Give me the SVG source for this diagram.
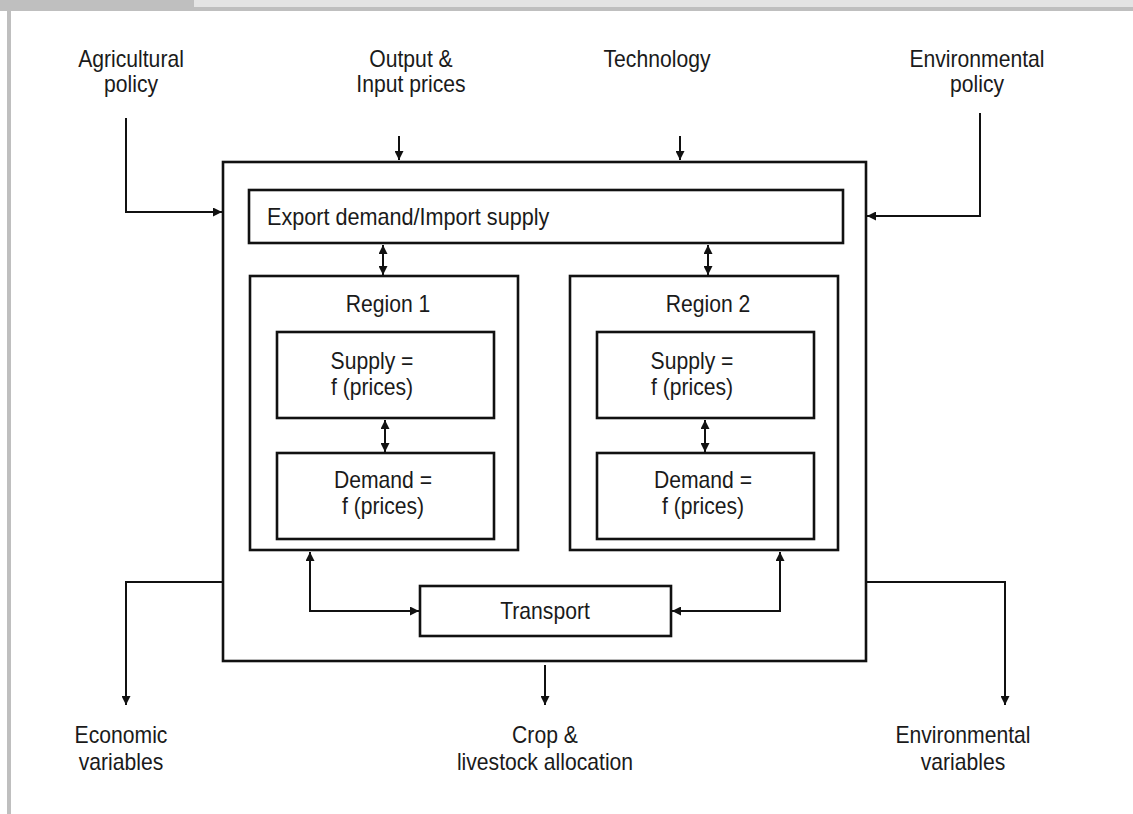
<svg xmlns="http://www.w3.org/2000/svg" width="1133" height="814" viewBox="0 0 1133 814">
<defs>
<marker id="ah" viewBox="0 0 10 10" refX="10" refY="5" markerWidth="9" markerHeight="9" markerUnits="userSpaceOnUse" orient="auto-start-reverse">
<path d="M0,0 L10,5 L0,10 z" fill="#111"/>
</marker>
<style>
.box{fill:#fff;stroke:#111;stroke-width:2.6}
.con{fill:none;stroke:#111;stroke-width:2}
.t{font-family:"Liberation Sans",Arial,sans-serif;font-size:23px;fill:#1a1a1a}
.m{text-anchor:middle}
</style>
</defs>
<rect x="0" y="0" width="1133" height="814" fill="#fff"/>
<g id="frame">
<rect x="0" y="0" width="1133" height="11" fill="#bfbfbf"/>
<rect x="194" y="0" width="939" height="7" fill="#e4e4e4"/>
<rect x="7" y="11" width="4" height="803" fill="#bfbfbf"/>
</g>
<g id="outer"><rect class="box" x="223" y="162" width="643" height="499"/></g>
<g id="export"><rect class="box" x="249" y="190" width="594" height="53"/><text class="t" transform="translate(267,225) scale(0.94,1)">Export demand/Import supply</text></g>
<g id="region1"><rect class="box" x="250" y="276" width="268" height="274"/><text class="t m" transform="translate(388,312) scale(0.92,1)">Region 1</text></g>
<g id="region2"><rect class="box" x="570" y="276" width="268" height="274"/><text class="t m" transform="translate(708,312) scale(0.92,1)">Region 2</text></g>
<g id="supply1"><rect class="box" x="277" y="332" width="217" height="86"/><text class="t m" transform="translate(372,369) scale(0.92,1)">Supply =</text><text class="t m" transform="translate(372,395) scale(0.92,1)">f (prices)</text></g>
<g id="demand1"><rect class="box" x="277" y="453" width="217" height="86"/><text class="t m" transform="translate(383,488) scale(0.92,1)">Demand =</text><text class="t m" transform="translate(383,514) scale(0.92,1)">f (prices)</text></g>
<g id="supply2"><rect class="box" x="597" y="332" width="217" height="86"/><text class="t m" transform="translate(692,369) scale(0.92,1)">Supply =</text><text class="t m" transform="translate(692,395) scale(0.92,1)">f (prices)</text></g>
<g id="demand2"><rect class="box" x="597" y="453" width="217" height="86"/><text class="t m" transform="translate(703,488) scale(0.92,1)">Demand =</text><text class="t m" transform="translate(703,514) scale(0.92,1)">f (prices)</text></g>
<g id="transport"><rect class="box" x="420" y="586" width="251" height="50"/><text class="t m" transform="translate(545,619) scale(0.92,1)">Transport</text></g>
<g id="agri"><text class="t m" transform="translate(131,67) scale(0.92,1)">Agricultural</text><text class="t m" transform="translate(131,92) scale(0.92,1)">policy</text></g>
<g id="prices"><text class="t m" transform="translate(411,67) scale(0.92,1)">Output &amp;</text><text class="t m" transform="translate(411,92) scale(0.92,1)">Input prices</text></g>
<g id="tech"><text class="t m" transform="translate(657,67) scale(0.92,1)">Technology</text></g>
<g id="envpol"><text class="t m" transform="translate(977,67) scale(0.92,1)">Environmental</text><text class="t m" transform="translate(977,92) scale(0.92,1)">policy</text></g>
<g id="econ"><text class="t m" transform="translate(121,743) scale(0.92,1)">Economic</text><text class="t m" transform="translate(121,770) scale(0.92,1)">variables</text></g>
<g id="crop"><text class="t m" transform="translate(545,743) scale(0.92,1)">Crop &amp;</text><text class="t m" transform="translate(545,770) scale(0.92,1)">livestock allocation</text></g>
<g id="envvar"><text class="t m" transform="translate(963,743) scale(0.92,1)">Environmental</text><text class="t m" transform="translate(963,770) scale(0.92,1)">variables</text></g>
<g id="connectors">
<path class="con" d="M126,118 V212 H222" marker-end="url(#ah)"/>
<path class="con" d="M980,113 V216 H867" marker-end="url(#ah)"/>
<path class="con" d="M399,136 V160" marker-end="url(#ah)"/>
<path class="con" d="M680,136 V160" marker-end="url(#ah)"/>
<path class="con" d="M383,245 V275" marker-start="url(#ah)" marker-end="url(#ah)"/>
<path class="con" d="M708,245 V275" marker-start="url(#ah)" marker-end="url(#ah)"/>
<path class="con" d="M385,420 V452" marker-start="url(#ah)" marker-end="url(#ah)"/>
<path class="con" d="M705,420 V452" marker-start="url(#ah)" marker-end="url(#ah)"/>
<path class="con" d="M310,552 V611 H419" marker-start="url(#ah)" marker-end="url(#ah)"/>
<path class="con" d="M780,552 V611 H672" marker-start="url(#ah)" marker-end="url(#ah)"/>
<path class="con" d="M222,582 H126 V705" marker-end="url(#ah)"/>
<path class="con" d="M867,582 H1005 V705" marker-end="url(#ah)"/>
<path class="con" d="M545,665 V705" marker-end="url(#ah)"/>
</g>
</svg>
